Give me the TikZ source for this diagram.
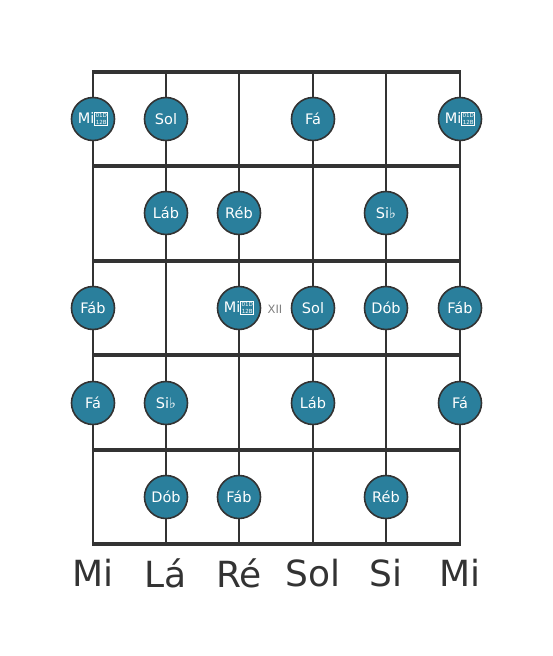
\documentclass[tikz,border=0pt]{standalone}
\usepackage{fontspec}
\setmainfont{DejaVu Sans}
\definecolor{ink}{HTML}{333333}
\definecolor{teal}{HTML}{2A7F9C}
\newcommand\tofu{\raisebox{-1.5pt}{\fboxsep=0.5pt\fboxrule=0.6pt\fbox{\fontsize{5.6}{5.6}\selectfont\shortstack{01D\\12B}}}}
\begin{document}
\begin{tikzpicture}[x=1pt,y=-1pt,
  fret/.style={draw=ink,line width=3.2pt},
  str/.style={draw=ink,line width=2pt},
  note/.style={circle,draw=ink,line width=1.6pt,fill=teal,minimum size=43pt,inner sep=0pt,text=white,font=\fontsize{14.5}{14.5}\selectfont},
  sname/.style={text=ink,font=\fontsize{36}{36}\selectfont},
  fretmark/.style={text=gray,font=\fontsize{11.5}{11.5}\selectfont}]
\useasboundingbox (0,0) rectangle (553,656);
% strings
\foreach \x/\n in {93/s1,166/s2,239/s3,313/s4,386/s5,460/s6}{
  \coordinate (\n t) at (\x,72);
  \coordinate (\n b) at (\x,544);
  \draw[str] (\n t) -- (\n b);
}
% frets
\foreach \y/\n in {166/f1,261/f2,355/f3,450/f4,544/f5}{
  \coordinate (\n l) at (93,\y);
  \coordinate (\n r) at (460,\y);
  \draw[fret] ([xshift=-1pt]\n l) -- ([xshift=1pt]\n r);
}
\coordinate (nl) at (92,72); \coordinate (nr) at (461,72);
\draw[draw=ink,line width=4pt] (nl) -- (nr);
% notes
\node[note] (a1) at (93,119) {Mi\tofu};
\node[note] (a2) at (166,119) {Sol};
\node[note] (a4) at (313,119) {Fá};
\node[note] (a6) at (460,119) {Mi\tofu};
\node[note] (b2) at (166,213) {Láb};
\node[note] (b3) at (239,213) {Réb};
\node[note] (b5) at (386,213) {Si♭};
\node[note] (c1) at (93,308) {Fáb};
\node[note] (c3) at (239,308) {Mi\tofu};
\node[fretmark] (xii) at (275,309) {XII};
\node[note] (c4) at (313,308) {Sol};
\node[note] (c5) at (386,308) {Dób};
\node[note] (c6) at (460,308) {Fáb};
\node[note] (d1) at (93,403) {Fá};
\node[note] (d2) at (166,403) {Si♭};
\node[note] (d4) at (313,403) {Láb};
\node[note] (d6) at (460,403) {Fá};
\node[note] (e2) at (166,497) {Dób};
\node[note] (e3) at (239,497) {Fáb};
\node[note] (e5) at (386,497) {Réb};
% string names
\node[sname] (n1) at (93,573) {Mi};
\node[sname] (n2) at (166,573) {Lá};
\node[sname] (n3) at (239,573) {Ré};
\node[sname] (n4) at (313,573) {Sol};
\node[sname] (n5) at (386,573) {Si};
\node[sname] (n6) at (460,573) {Mi};
\end{tikzpicture}
\end{document}
